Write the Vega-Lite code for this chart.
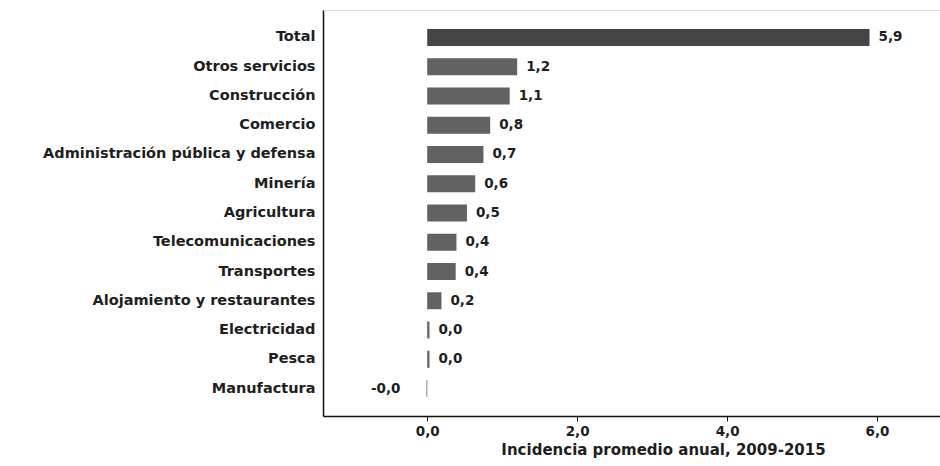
{
  "$schema": "https://vega.github.io/schema/vega-lite/v6.json",
  "width": 617,
  "height": 406,
  "autosize": {"type": "none"},
  "padding": {"left": 323, "top": 10, "right": 0, "bottom": 50},
  "background": "#ffffff",
  "data": {
    "values": [
      {"sector": "Total", "valor": 5.9, "etiqueta": "5,9", "total": "si"},
      {"sector": "Otros servicios", "valor": 1.2, "etiqueta": "1,2", "total": "no"},
      {"sector": "Construcción", "valor": 1.1, "etiqueta": "1,1", "total": "no"},
      {"sector": "Comercio", "valor": 0.84, "etiqueta": "0,8", "total": "no"},
      {"sector": "Administración pública y defensa", "valor": 0.75, "etiqueta": "0,7", "total": "no"},
      {"sector": "Minería", "valor": 0.64, "etiqueta": "0,6", "total": "no"},
      {"sector": "Agricultura", "valor": 0.53, "etiqueta": "0,5", "total": "no"},
      {"sector": "Telecomunicaciones", "valor": 0.39, "etiqueta": "0,4", "total": "no"},
      {"sector": "Transportes", "valor": 0.38, "etiqueta": "0,4", "total": "no"},
      {"sector": "Alojamiento y restaurantes", "valor": 0.19, "etiqueta": "0,2", "total": "no"},
      {"sector": "Electricidad", "valor": 0.03, "etiqueta": "0,0", "total": "no"},
      {"sector": "Pesca", "valor": 0.03, "etiqueta": "0,0", "total": "no"},
      {"sector": "Manufactura", "valor": -0.01, "etiqueta": "-0,0", "total": "no"}
    ]
  },
  "encoding": {
    "y": {
      "field": "sector",
      "type": "nominal",
      "sort": null,
      "scale": {"paddingInner": 0.42, "paddingOuter": 0.65},
      "axis": {
        "title": null,
        "ticks": false,
        "labelPadding": 8,
        "labelLimit": 400,
        "labelFont": "DejaVu Sans",
        "labelFontWeight": 600,
        "labelFontSize": 14.5,
        "labelColor": "#1e1e1e",
        "domainColor": "#111111",
        "domainWidth": 1.5
      }
    }
  },
  "layer": [
    {
      "mark": {"type": "bar"},
      "encoding": {
        "x": {
          "field": "valor",
          "type": "quantitative",
          "scale": {"domain": [-1.39, 6.84], "nice": false, "zero": false},
          "axis": {
            "values": [0, 2, 4, 6],
            "labelExpr": "replace(format(datum.value, '.1f'), '.', ',')",
            "grid": false,
            "title": "Incidencia promedio anual, 2009-2015",
            "titleFont": "DejaVu Sans",
            "titleFontSize": 15,
            "titleFontWeight": 600,
            "titleColor": "#1e1e1e",
            "titlePadding": 5,
            "titleX": 340,
            "labelFont": "DejaVu Sans",
            "labelFontWeight": 600,
            "labelFontSize": 13.5,
            "labelColor": "#1e1e1e",
            "labelPadding": 3,
            "tickSize": 5,
            "tickColor": "#111111",
            "domainColor": "#111111",
            "domainWidth": 1.5
          }
        },
        "color": {
          "field": "total",
          "type": "nominal",
          "scale": {"domain": ["si", "no"], "range": ["#454545", "#626262"]},
          "legend": null
        }
      }
    },
    {
      "transform": [{"filter": "datum.valor >= 0"}],
      "mark": {"type": "text", "align": "left", "baseline": "middle", "dx": 9, "font": "DejaVu Sans", "fontWeight": 600, "fontSize": 13.5, "color": "#1e1e1e"},
      "encoding": {
        "x": {"field": "valor", "type": "quantitative"},
        "text": {"field": "etiqueta"}
      }
    },
    {
      "transform": [{"filter": "datum.valor < 0"}],
      "mark": {"type": "text", "align": "right", "baseline": "middle", "dx": -26, "font": "DejaVu Sans", "fontWeight": 600, "fontSize": 13.5, "color": "#1e1e1e"},
      "encoding": {
        "x": {"field": "valor", "type": "quantitative"},
        "text": {"field": "etiqueta"}
      }
    }
  ]
}
